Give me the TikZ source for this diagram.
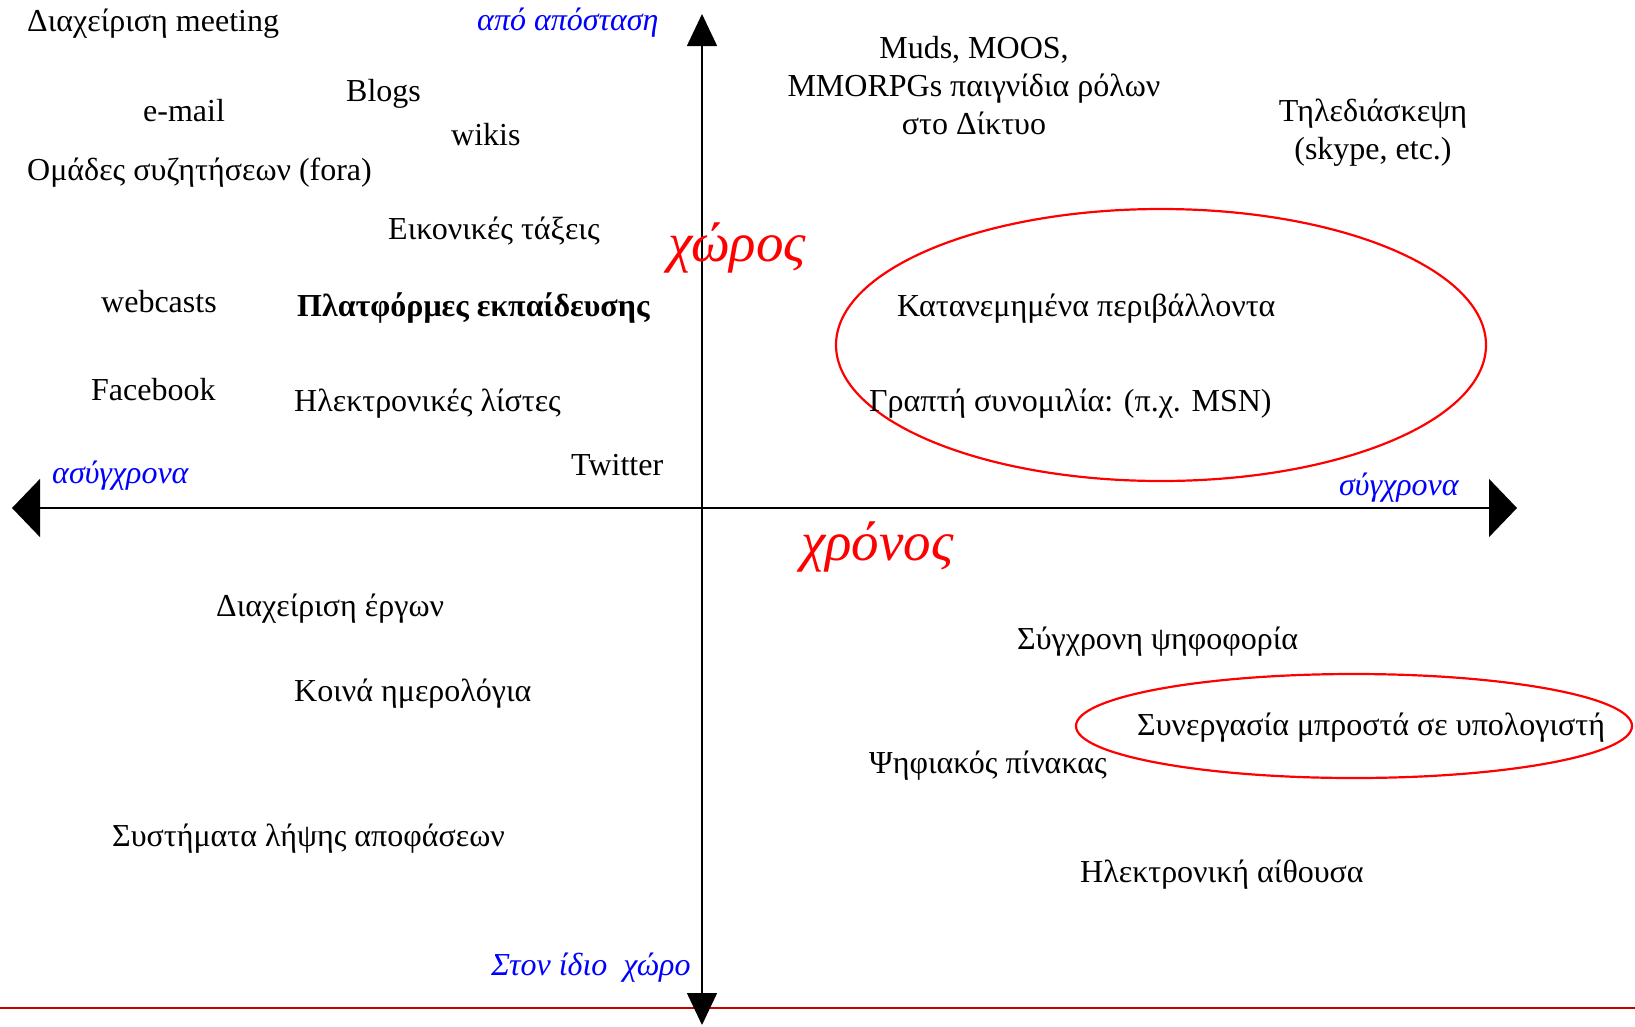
\documentclass[tikz,border=0pt]{standalone}
\usepackage{fontspec}
\setmainfont{Liberation Serif}
\usetikzlibrary{arrows.meta}
\definecolor{axred}{RGB}{200,0,0}
\definecolor{lblue}{RGB}{0,0,255}
\tikzset{
  item/.style={inner sep=0pt, anchor=mid west, font=\fontsize{32}{38}\selectfont},
  blk/.style={inner sep=0pt, align=center, font=\fontsize{32}{38}\selectfont},
  axlbl/.style={inner sep=0pt, anchor=mid west, text=lblue, font=\fontsize{32}{36}\itshape},
  biglbl/.style={inner sep=0pt, anchor=mid west, text=red, font=\fontsize{55}{60}\itshape},
  axis/.style={line width=1.5pt},
  ring/.style={draw=red, line width=2.2pt}
}
\begin{document}
\begin{tikzpicture}[x=1pt,y=-1pt]
\useasboundingbox (0,0) rectangle (1635,1026);
% bottom red line
\coordinate (RL) at (0,1008);
\coordinate (RR) at (1635,1008);
\draw[axred, line width=2.6pt] (RL) -- (RR);
% axes
\coordinate (L) at (12,508);
\coordinate (R) at (1517,508);
\coordinate (T) at (702,14);
\coordinate (B) at (702,1025);
\draw[axis, {Triangle[length=28pt,width=58pt]}-{Triangle[length=28pt,width=58pt]}] (L) -- (R);
\draw[axis, {Triangle[length=32pt,width=30pt]}-{Triangle[length=32pt,width=30pt]}] (T) -- (B);
% ellipses
\draw[ring] (1161,345) ellipse [x radius=325, y radius=136];
\draw[ring] (1354,726) ellipse [x radius=278, y radius=52];
% axis labels
\node[axlbl] (apo) at (477,28) {από απόσταση};
\node[axlbl] (asy) at (52,481) {ασύγχρονα};
\node[axlbl] (syg) at (1339,493) {σύγχρονα};
\node[axlbl] (idio) at (491,973) {Στον ίδιο\ \ χώρο};
\node[biglbl] (xoros) at (668,259) {χώρος};
\node[biglbl] (xronos) at (801,558) {χρόνος};
% items
\node[item] (meet) at (27,29) {Διαχείριση meeting};
\node[item] (blogs) at (346,99) {Blogs};
\node[item] (email) at (143,119) {e-mail};
\node[item] (wikis) at (451,143) {wikis};
\node[item] (fora) at (27,178) {Ομάδες συζητήσεων (fora)};
\node[item] (eik) at (388,237) {Εικονικές τάξεις};
\node[item] (web) at (101,310) {webcasts};
\node[item, font=\fontsize{32}{38}\bfseries] (plat) at (297,314) {Πλατφόρμες εκπαίδευσης};
\node[item] (fb) at (91,398) {Facebook};
\node[item] (lists) at (294,409) {Ηλεκτρονικές λίστες};
\node[item] (tw) at (571,473) {Twitter};
\node[blk] (muds) at (974,86) {Muds, MOOS,\\MMORPGs παιγνίδια ρόλων\\στο Δίκτυο};
\node[blk] (tele) at (1373,133) {Τηλεδιάσκεψη\\(skype, etc.)};
\node[item] (katan) at (897,314) {Κατανεμημένα περιβάλλοντα};
\node[item] (grap) at (869,409) {Γραπτή συνομιλία: (π.χ. MSN)};
\node[item] (erg) at (216,614) {Διαχείριση έργων};
\node[item] (psif) at (1017,647) {Σύγχρονη ψηφοφορία};
\node[item] (koin) at (294,699) {Κοινά ημερολόγια};
\node[item] (syn) at (1137,733) {Συνεργασία μπροστά σε υπολογιστή};
\node[item] (pin) at (869,771) {Ψηφιακός πίνακας};
\node[item] (sys) at (112,844) {Συστήματα λήψης αποφάσεων};
\node[item] (aith) at (1080,880) {Ηλεκτρονική αίθουσα};
\end{tikzpicture}
\end{document}
